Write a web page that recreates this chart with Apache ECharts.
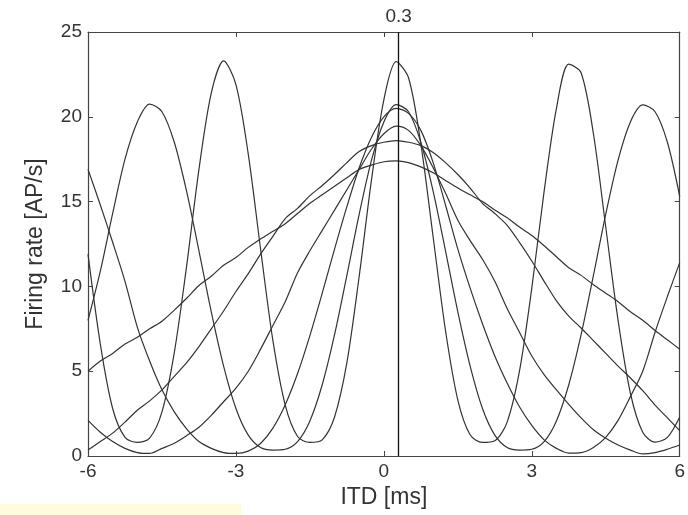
<!DOCTYPE html>
<html><head><meta charset="utf-8">
<script src="https://cdn.jsdelivr.net/npm/echarts@6/dist/echarts.min.js"></script>
<style>html,body{margin:0;padding:0;background:#fff}#c{width:688px;height:515px}</style>
</head><body><div id="c"></div>
<script>
// ITD sample points (ms)
const itd = [-6,-5.75,-5.5,-5.25,-5,-4.75,-4.5,-4.25,-4,-3.75,-3.5,-3.25,-3,-2.75,-2.5,-2.25,-2,-1.75,-1.5,-1.25,-1,-0.75,-0.5,-0.25,0,0.25,0.5,0.75,1,1.25,1.5,1.75,2,2.25,2.5,2.75,3,3.25,3.5,3.75,4,4.25,4.5,4.75,5,5.25,5.5,5.75,6];
// firing rates (AP/s) of the six tuning curves
const rateA = [11.9,6.6,2.8,1.1,0.8,1.05,2.6,6.1,11.2,16.9,21.4,23.3,21.9,17.8,12.2,6.8,3.0,1.15,0.8,0.95,2.3,5.5,10.6,16.3,21.0,23.25,22.3,18.4,12.9,7.4,3.3,1.25,0.8,0.9,2.0,5.0,9.9,15.6,20.5,23.1,22.6,19.0,13.5,8.0,3.7,1.4,0.82,1.1,2.3];
const rateB = [8.0,10.9,14.3,17.5,19.7,20.75,20.3,18.5,15.6,12.1,8.5,5.3,2.8,1.23,0.5,0.35,0.4,0.85,2.07,4.2,7.15,10.65,14.26,17.45,19.7,20.72,20.3,18.5,15.6,12.1,8.5,5.3,2.8,1.23,0.5,0.35,0.4,0.85,2.07,4.2,7.15,10.65,14.26,17.45,19.7,20.7,20.3,18.5,15.3];
const rateC = [16.9,14.8,12.6,10.3,7.6,5.6,3.9,2.6,1.6,0.85,0.45,0.2,0.15,0.29,0.74,1.64,3.02,4.86,7.1,9.6,12.2,14.7,17.0,18.8,20.0,20.5,20.2,19.2,17.3,14.8,12.2,9.9,7.8,5.9,4.3,2.9,1.8,0.95,0.45,0.17,0.2,0.5,1.1,2.1,3.5,5.0,7.3,9.4,11.4];
const rateD = [2.1,1.4,0.85,0.45,0.2,0.15,0.45,0.75,1.2,1.7,2.4,3.2,4.0,5.0,6.3,7.7,9.1,10.8,12.1,13.3,14.5,15.7,16.9,18.1,19.0,19.45,19.2,18.3,17.0,15.5,13.9,12.7,11.6,10.3,8.7,7.3,5.9,4.8,3.9,3.05,2.25,1.55,1.05,0.65,0.35,0.12,0.2,0.4,0.65];
const rateE = [0.35,0.85,1.35,2.0,2.7,3.25,3.9,4.7,5.5,6.45,7.5,8.55,9.7,10.75,11.9,12.95,14.0,14.6,15.35,15.95,16.6,17.3,17.95,18.3,18.5,18.6,18.5,18.3,17.9,17.3,16.6,15.8,14.9,14.3,13.6,12.6,11.5,10.3,9.15,8.25,7.55,6.8,6.05,5.3,4.6,3.85,3.0,2.25,1.5];
const rateF = [5.0,5.6,6.05,6.6,7.0,7.5,7.95,8.6,9.3,10.05,10.6,11.25,11.7,12.3,12.8,13.25,13.7,14.3,14.9,15.4,15.9,16.4,16.9,17.15,17.35,17.4,17.3,17.05,16.7,16.25,15.8,15.4,15.0,14.5,14.05,13.5,13.0,12.4,11.75,11.1,10.65,10.1,9.6,9.1,8.5,8.0,7.4,6.85,6.3];
const refITD = 0.3;
const refLabel = '0.3';
const xTitle = 'ITD [ms]';
const yTitle = 'Firing rate [AP/s]';

const chart = echarts.init(document.getElementById('c'), null, {renderer: 'canvas'});
const FONT = "'Liberation Sans', Arial, Helvetica, sans-serif";
const curves = [rateA, rateB, rateC, rateD, rateE, rateF];
const series = curves.map(ys => ({
  type: 'line', xAxisIndex: 0, yAxisIndex: 0,
  data: itd.map((x, i) => [x, ys[i]]),
  showSymbol: false, smooth: 0.3, silent: true,
  lineStyle: {color: '#333', width: 1.2}
}));
series[0].markLine = {
  symbol: 'none', silent: true, animation: false,
  lineStyle: {color: '#111', width: 1.3, type: 'solid'},
  label: {show: true, position: 'end', formatter: refLabel, color: '#333', fontSize: 19, fontFamily: FONT, distance: 6},
  data: [{xAxis: refITD}]
};
const tickCommon = {inside: true, length: 5, lineStyle: {color: '#444', width: 1}};
const lineCommon = {onZero: false, lineStyle: {color: '#444', width: 1.2}};
chart.setOption({
  animation: false,
  backgroundColor: '#fff',
  grid: {left: 88, right: 7, top: 32, bottom: 59},
  xAxis: [
    {type: 'value', min: -6, max: 6, interval: 3, position: 'bottom',
     axisLine: lineCommon, axisTick: tickCommon, splitLine: {show: false},
     axisLabel: {color: '#333', fontSize: 19, fontFamily: FONT, margin: 6},
     name: xTitle, nameLocation: 'middle', nameGap: 29,
     nameTextStyle: {color: '#333', fontSize: 23, fontFamily: FONT}},
    {type: 'value', min: -6, max: 6, interval: 3, position: 'top',
     axisLine: lineCommon, axisTick: tickCommon, splitLine: {show: false},
     axisLabel: {show: false}}
  ],
  yAxis: [
    {type: 'value', min: 0, max: 25, interval: 5, position: 'left',
     axisLine: lineCommon, axisTick: tickCommon, splitLine: {show: false},
     axisLabel: {color: '#333', fontSize: 19, fontFamily: FONT, margin: 6},
     name: yTitle, nameLocation: 'middle', nameGap: 41, nameRotate: 90,
     nameTextStyle: {color: '#333', fontSize: 23, fontFamily: FONT}},
    {type: 'value', min: 0, max: 25, interval: 5, position: 'right',
     axisLine: lineCommon, axisTick: tickCommon, splitLine: {show: false},
     axisLabel: {show: false}}
  ],
  graphic: [{type: 'rect', left: 0, top: 504, z: -1, shape: {width: 241, height: 11}, style: {fill: '#fffbdc'}}],
  series: series
});
</script>
</body></html>
